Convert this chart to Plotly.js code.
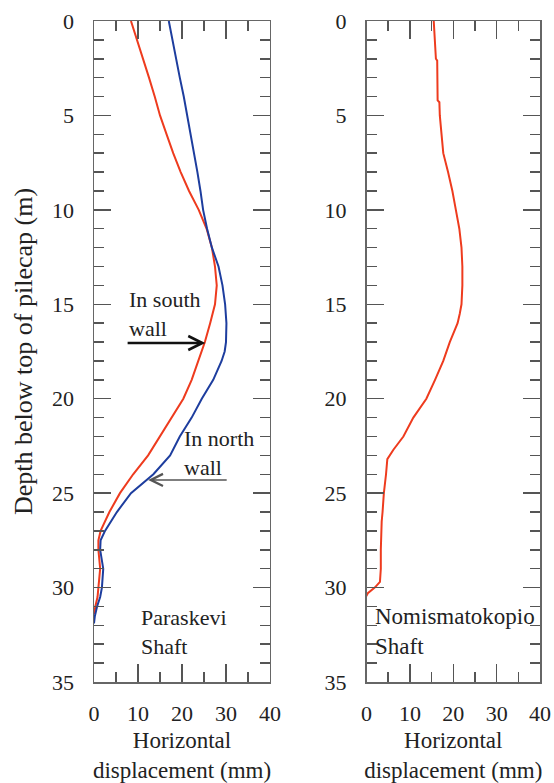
<!DOCTYPE html>
<html>
<head>
<meta charset="utf-8">
<script src="https://cdn.plot.ly/plotly-3.0.1.min.js"></script>
<style>html,body{margin:0;padding:0;background:#fff;font-family:'Liberation Serif';}#chart{width:554px;height:783px;}</style>
</head>
<body>
<div id="chart"></div>
<script>
// Paraskevi Shaft - inclinometer in south wall (red)
const southDepth = [0, 1, 2, 3, 4, 5, 6, 7, 8, 9, 10, 11, 12, 13, 14, 15, 16, 17, 18, 19, 20, 21, 22, 23, 24, 25, 26, 27, 27.5, 28, 29, 30, 30.5, 31, 31.4];
const southDisp  = [8.4, 9.8, 11.2, 12.5, 13.8, 15.0, 16.5, 18.0, 19.7, 21.6, 23.8, 25.6, 26.8, 27.5, 27.9, 27.5, 26.4, 25.2, 23.7, 22.2, 20.3, 17.6, 15.0, 12.3, 8.9, 5.9, 3.5, 1.5, 1.0, 1.0, 1.4, 1.0, 0.8, 0.3, 0.0];
// Paraskevi Shaft - inclinometer in north wall (blue)
const northDepth = [0, 1, 2, 3, 4, 5, 6, 7, 8, 9, 10, 11, 12, 13, 14, 15, 16, 17, 17.5, 18, 19, 20, 21, 22, 23, 24, 25, 26, 27, 27.5, 28, 29, 30, 30.5, 31, 31.5, 31.9];
const northDisp  = [17.0, 17.8, 18.7, 19.5, 20.4, 21.2, 22.0, 22.8, 23.5, 24.2, 24.8, 25.7, 26.8, 28.3, 29.2, 29.8, 30.1, 30.0, 29.7, 29.0, 27.1, 24.5, 22.2, 19.5, 17.3, 13.5, 8.4, 5.2, 2.5, 1.5, 1.4, 2.1, 1.8, 1.4, 0.7, 0.2, 0.0];
// Nomismatokopio Shaft (red)
const nomDepth = [0, 1, 2, 2.1, 4.2, 4.3, 5, 6, 7, 8, 9, 10, 11, 12, 13, 14, 15, 15.5, 16, 17, 18, 19, 20, 21, 22, 22.7, 23.2, 24, 25, 26, 26.5, 28, 29, 29.7, 30, 30.3, 30.6, 31, 32, 32.5];
const nomDisp  = [15.5, 15.8, 16.0, 16.3, 16.4, 16.8, 16.9, 17.3, 17.7, 18.8, 19.8, 20.6, 21.4, 21.9, 22.1, 22.1, 21.9, 21.5, 21.0, 19.2, 17.7, 15.8, 13.8, 10.8, 8.5, 6.2, 4.8, 4.5, 4.0, 3.7, 3.5, 3.3, 3.3, 3.1, 1.9, 0.3, -0.4, -0.5, -0.4, -0.1];

const xTickVals = [0, 10, 20, 30, 40];
const yTickVals = [0, 5, 10, 15, 20, 25, 30, 35];

const RED = '#ee3b1e';
const BLUE = '#1d3d9e';
const FONT = 'Liberation Serif';
const TXT = '#222222';

const traces = [
  {x: southDisp, y: southDepth, xaxis: 'x', yaxis: 'y', mode: 'lines', name: 'In south wall',
   line: {color: RED, width: 2}},
  {x: northDisp, y: northDepth, xaxis: 'x', yaxis: 'y', mode: 'lines', name: 'In north wall',
   line: {color: BLUE, width: 2}},
  {x: nomDisp, y: nomDepth, xaxis: 'x2', yaxis: 'y2', mode: 'lines', name: 'Nomismatokopio',
   line: {color: RED, width: 2}}
];

function xAxis(domain, anchor) {
  return {
    domain: domain, anchor: anchor, range: [0, 40], tickvals: xTickVals,
    ticks: 'inside', ticklen: 18, tickwidth: 1.5, tickcolor: '#555',
    minor: {dtick: 5, tick0: 0, ticks: 'inside', ticklen: 10, tickwidth: 1.5, tickcolor: '#555', showgrid: false},
    showline: true, linecolor: '#666', linewidth: 1.5, mirror: 'allticks',
    showgrid: false, zeroline: false, ticklabelstandoff: 11,
    tickfont: {family: FONT, size: 22, color: TXT},
    title: {text: 'Horizontal<br>displacement (mm)', font: {family: FONT, size: 23, color: TXT}, standoff: 24},
    automargin: false, fixedrange: true
  };
}
function yAxis(anchor, withTitle) {
  return {
    domain: [0, 1], anchor: anchor, range: [35, 0], tickvals: yTickVals,
    ticks: 'inside', ticklen: 17, tickwidth: 1.5, tickcolor: '#555',
    minor: {dtick: 1, tick0: 0, ticks: 'inside', ticklen: 10, tickwidth: 1.5, tickcolor: '#555', showgrid: false},
    showline: true, linecolor: '#666', linewidth: 1.5, mirror: 'allticks',
    showgrid: false, zeroline: false, ticklabelstandoff: 14,
    tickfont: {family: FONT, size: 22, color: TXT},
    title: withTitle ? {text: 'Depth below top of pilecap (m)', font: {family: FONT, size: 26, color: TXT}, standoff: 12} : {text: ''},
    automargin: false, fixedrange: true
  };
}

const annFont = {family: FONT, size: 22, color: TXT};
const layout = {
  width: 554, height: 783,
  margin: {l: 94, r: 14, t: 21, b: 101},
  font: {family: FONT, size: 22, color: TXT},
  paper_bgcolor: '#ffffff', plot_bgcolor: '#ffffff',
  showlegend: false,
  xaxis: xAxis([0, 0.3946], 'y'),
  yaxis: yAxis('x', true),
  xaxis2: xAxis([0.611, 1], 'y2'),
  yaxis2: yAxis('x2', false),
  annotations: [
    {xref: 'x', yref: 'y', x: 7.4, y: 15.5, text: 'In south<br>wall', showarrow: false,
     xanchor: 'left', yanchor: 'middle', align: 'left', font: annFont},
    {xref: 'x', yref: 'y', x: 25.3, y: 17.05, ax: 7.3, ay: 17.05, axref: 'x', ayref: 'y', text: '',
     showarrow: true, arrowhead: 5, arrowsize: 1.1, arrowwidth: 2.5, arrowcolor: '#111', standoff: 0},
    {xref: 'x', yref: 'y', x: 20.0, y: 22.85, text: 'In north<br>wall', showarrow: false,
     xanchor: 'left', yanchor: 'middle', align: 'left', font: annFont},
    {xref: 'x', yref: 'y', x: 12.3, y: 24.3, ax: 30.5, ay: 24.3, axref: 'x', ayref: 'y', text: '',
     showarrow: true, arrowhead: 5, arrowsize: 1.6, arrowwidth: 1.5, arrowcolor: '#555', standoff: 0},
    {xref: 'x', yref: 'y', x: 10.3, y: 32.35, text: 'Paraskevi<br>Shaft', showarrow: false,
     xanchor: 'left', yanchor: 'middle', align: 'left', font: annFont},
    {xref: 'x2', yref: 'y2', x: 1.4, y: 32.35, text: 'Nomismatokopio<br>Shaft', showarrow: false,
     xanchor: 'left', yanchor: 'middle', align: 'left', font: {family: FONT, size: 23, color: TXT}}
  ]
};

Plotly.newPlot('chart', traces, layout, {staticPlot: true, displayModeBar: false});
</script>
</body>
</html>
